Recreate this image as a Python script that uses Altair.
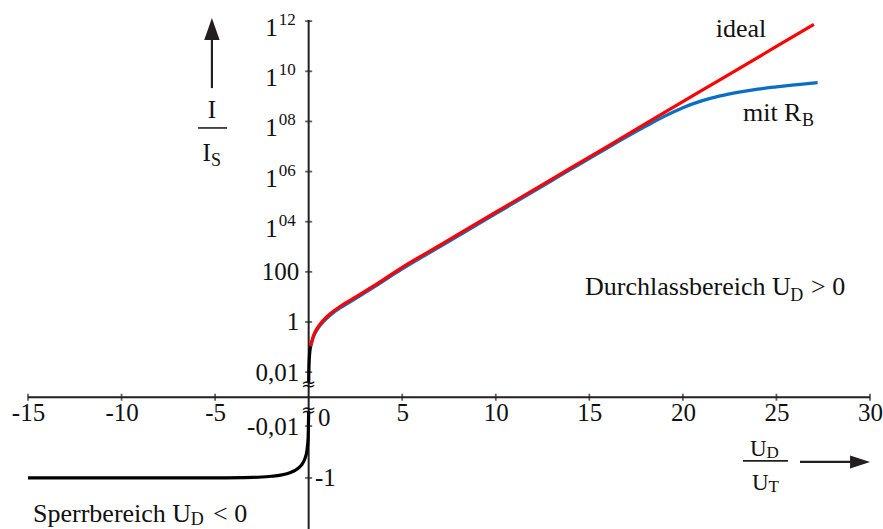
import altair as alt
import pandas as pd
import numpy as np

FONT = "Liberation Serif"
AX = "#231f20"

# ---- data ----
# forward region: x = U_D/U_T, values = log10(I/I_S)
red_x = [0.1, 0.25, 0.5, 0.8, 1.2, 1.7, 2.5, 3.5, 5, 7, 10, 13, 16, 19, 22, 25, 27]
red_log10 = [-0.97, -0.56, -0.2, 0.08, 0.36, 0.63, 0.99, 1.45, 2.18, 3.06, 4.38, 5.70, 7.02, 8.35, 9.67, 10.99, 11.87]
blue_x = [0.1, 0.25, 0.5, 0.8, 1.2, 1.7, 2.5, 3.5, 5, 7, 10, 13, 16, 18, 19, 20, 21, 22, 23, 24, 25, 26, 27.2]
blue_log10 = [-1.0, -0.61, -0.26, 0.02, 0.3, 0.57, 0.93, 1.4, 2.12, 3.0, 4.32, 5.64, 6.96, 7.8, 8.2, 8.55,
              8.82, 9.02, 9.17, 9.29, 9.38, 9.46, 9.55]
# black curve (I/I_S), small forward part and reverse region
fwd_x = [0, 0.01, 0.03, 0.1]
fwd_I = [0.0037, 0.01, 0.03, 0.107]
rev_x = [-15, -10, -5, -3, -2.5, -2, -1.5, -1, -0.7, -0.4, -0.2, -0.1, -0.03, 0]
rev_I = [-1, -1, -0.99, -0.95, -0.92, -0.86, -0.78, -0.63, -0.5, -0.33, -0.18, -0.095, -0.03, -0.0026]

x_ticks = [-15, -10, -5, 5, 10, 15, 20, 25, 30]
y_tick_vals = [0.01, 1, 100, 1e4, 1e6, 1e8, 1e10, 1e12, -0.01, -1]
sup_vals = [1e4, 1e6, 1e8, 1e10, 1e12]
sup_text = ["04", "06", "08", "10", "12"]


def disp(v):
    """split log display: positive values in decades, negative values mirrored below the axis"""
    v = np.asarray(v, dtype=float)
    a = np.log10(np.abs(v))
    return np.where(v > 0, a, -4.15 - 1.035 * (a + 2))


W, H = 883, 529
xs = alt.Scale(domain=[-16.496, 30.695], nice=False, zero=False)
ys = alt.Scale(domain=[-8.257, 12.844], nice=False, zero=False)

xaxis = alt.Axis(values=x_ticks, orient="bottom", offset=-131.8, domain=False, ticks=False, grid=False,
                 labelFont=FONT, labelFontSize=25, labelColor="#111", labelPadding=3, title=None,
                 labelFlush=False, labelOverlap=False, labelExpr="'' + datum.value")
yaxis = alt.Axis(values=[float(disp(0.01)), 0.0, 2.0, float(disp(-0.01))], orient="left", offset=-308.7,
                 domain=False, ticks=False, grid=False, labelFont=FONT, labelFontSize=25, labelColor="#111",
                 labelPadding=10, labelBaseline="middle", title=None, labelFlush=False, labelOverlap=False,
                 labelExpr="datum.value == 0 ? '1' : (datum.value == 2 ? '100' : (datum.value == -2 ? '0,01' : '-0,01'))")

X = lambda f="x": alt.X(f"{f}:Q", scale=xs, axis=xaxis)
Y = lambda f="t": alt.Y(f"{f}:Q", scale=ys, axis=yaxis)

# curves
red = pd.DataFrame({"x": red_x, "t": red_log10})
blue = pd.DataFrame({"x": blue_x, "t": blue_log10})
black = pd.concat([
    pd.DataFrame({"x": fwd_x, "t": disp(fwd_I), "seg": "fwd"}),
    pd.DataFrame({"x": rev_x, "t": disp(rev_I), "seg": "rev"}),
])

# axis lines
axes_df = pd.DataFrame({"x": [-15, 0], "x2": [30, 0], "t": [-3, 12.05], "t2": [-3, -8.257]})
axes_layer = alt.Chart(axes_df).mark_rule(color=AX, strokeWidth=2).encode(
    x=X(), x2="x2:Q", y=Y(), y2="t2:Q")

xt = pd.DataFrame({"x": x_ticks, "t": [-3] * len(x_ticks)})
xt_layer = alt.Chart(xt).mark_tick(orient="vertical", size=7, thickness=1.8, color=AX).encode(x=X(), y=Y())
yt = pd.DataFrame({"x": [0] * len(y_tick_vals), "t": disp(y_tick_vals)})
yt_layer = alt.Chart(yt).mark_tick(orient="horizontal", size=7, thickness=1.8, color=AX).encode(x=X(), y=Y())

blue_layer = alt.Chart(blue).mark_line(color="#0a6fc4", strokeWidth=3.2, interpolate="monotone").encode(
    x=X(), y=Y(), order="x:Q")
red_layer = alt.Chart(red).mark_line(color="#ff0000", strokeWidth=3.2, interpolate="monotone").encode(
    x=X(), y=Y(), order="x:Q")
black_layer = alt.Chart(black).mark_line(color="#000000", strokeWidth=3.2, interpolate="monotone").encode(
    x=X(), y=Y(), detail="seg:N", order="x:Q")

# superscript tick labels 1^04 ... 1^12
sup_df = pd.DataFrame({"x": [0] * len(sup_vals), "t": disp(sup_vals), "base": ["1"] * len(sup_vals),
                       "sup": sup_text})
base_layer = alt.Chart(sup_df).mark_text(font=FONT, fontSize=25, align="right", baseline="alphabetic",
                                         dx=-31, dy=15, color="#111").encode(x=X(), y=Y(), text="base:N")
supl_layer = alt.Chart(sup_df).mark_text(font=FONT, fontSize=17, align="left", baseline="middle",
                                         dx=-30, dy=-1, color="#111").encode(x=X(), y=Y(), text="sup:N")

# annotations (positions in data units)
left_txt = pd.DataFrame({
    "x": [23.21, 26.37, 14.77, 25.74, 26.85, -14.73, -6.3, -5.11, 23.59, 24.47, 23.69, 24.57, -5.68, -5.22],
    "t": [8.02, 7.82, 1.08, 0.84, 1.08, -7.98, -8.1, -7.98, -5.35, -5.42, -6.70, -6.78, 6.42, 6.24],
    "text": ["mit R", "B", "Durchlassbereich U", "D", "> 0", "Sperrbereich U", "D", "< 0",
             "U", "D", "U", "T", "I", "S"],
    "fs": [26, 18, 26, 18, 26, 26, 18, 26, 23, 17, 23, 17, 25, 18],
})
left_layer = alt.Chart(left_txt).mark_text(font=FONT, align="left", baseline="alphabetic", color="#111").encode(
    x=X(), y=Y(), text="text:N", size=alt.Size("fs:Q", scale=None))

center_txt = pd.DataFrame({"x": [23.11, -5.17], "t": [11.37, 8.14], "text": ["ideal", "I"],
                           "fs": [26, 25]})
center_layer = alt.Chart(center_txt).mark_text(font=FONT, align="center", baseline="alphabetic",
                                               color="#111").encode(x=X(), y=Y(), text="text:N",
                                                                    size=alt.Size("fs:Q", scale=None))

mid_txt = pd.DataFrame({"x": [0.34, 0.5], "t": [float(disp(-1)), -3.83], "text": ["-1", "0"]})
mid_layer = alt.Chart(mid_txt).mark_text(font=FONT, fontSize=25, align="left", baseline="middle",
                                         color="#111").encode(x=X(), y=Y(), text="text:N")

brk = pd.DataFrame({"x": [0, 0], "t": [-2.51, -3.55], "text": ["≈", "≈"]})
brk_layer = alt.Chart(brk).mark_text(font="DejaVu Sans", fontSize=18, align="center", baseline="middle",
                                     color="#111").encode(x=X(), y=Y(), text="text:N")

# fraction bars and arrows
rules = pd.DataFrame({"x": [-5.91, 23.21, -5.17, 26.26], "x2": [-4.36, 25.62, -5.17, 29.2],
                      "t": [7.74, -5.54, 9.33, -5.58], "t2": [7.74, -5.54, 11.45, -5.58],
                      "w": [1.6, 1.6, 2.2, 2.2]})
rule_layer = alt.Chart(rules).mark_rule(color=AX).encode(
    x=X(), x2="x2:Q", y=Y(), y2="t2:Q", strokeWidth=alt.StrokeWidth("w:Q", scale=None))

up_head = alt.Chart(pd.DataFrame({"x": [-5.17], "t": [11.69]})).mark_point(
    shape="M-0.7,1L0,-1L0.7,1Z", filled=True, size=484, color=AX, opacity=1).encode(x=X(), y=Y())
right_head = alt.Chart(pd.DataFrame({"x": [29.47], "t": [-5.58]})).mark_point(
    shape="M-1,-0.65L1,0L-1,0.65Z", filled=True, size=400, color=AX, opacity=1).encode(x=X(), y=Y())

chart = alt.layer(
    axes_layer, xt_layer, yt_layer, blue_layer, red_layer, black_layer,
    base_layer, supl_layer, left_layer, center_layer, mid_layer, brk_layer,
    rule_layer, up_head, right_head,
).properties(
    width=W, height=H, autosize=alt.AutoSizeParams(type="none"), padding=0, background="white"
).configure_view(stroke=None)

chart.save("out.html", embed_options={"renderer": "svg", "actions": False})
